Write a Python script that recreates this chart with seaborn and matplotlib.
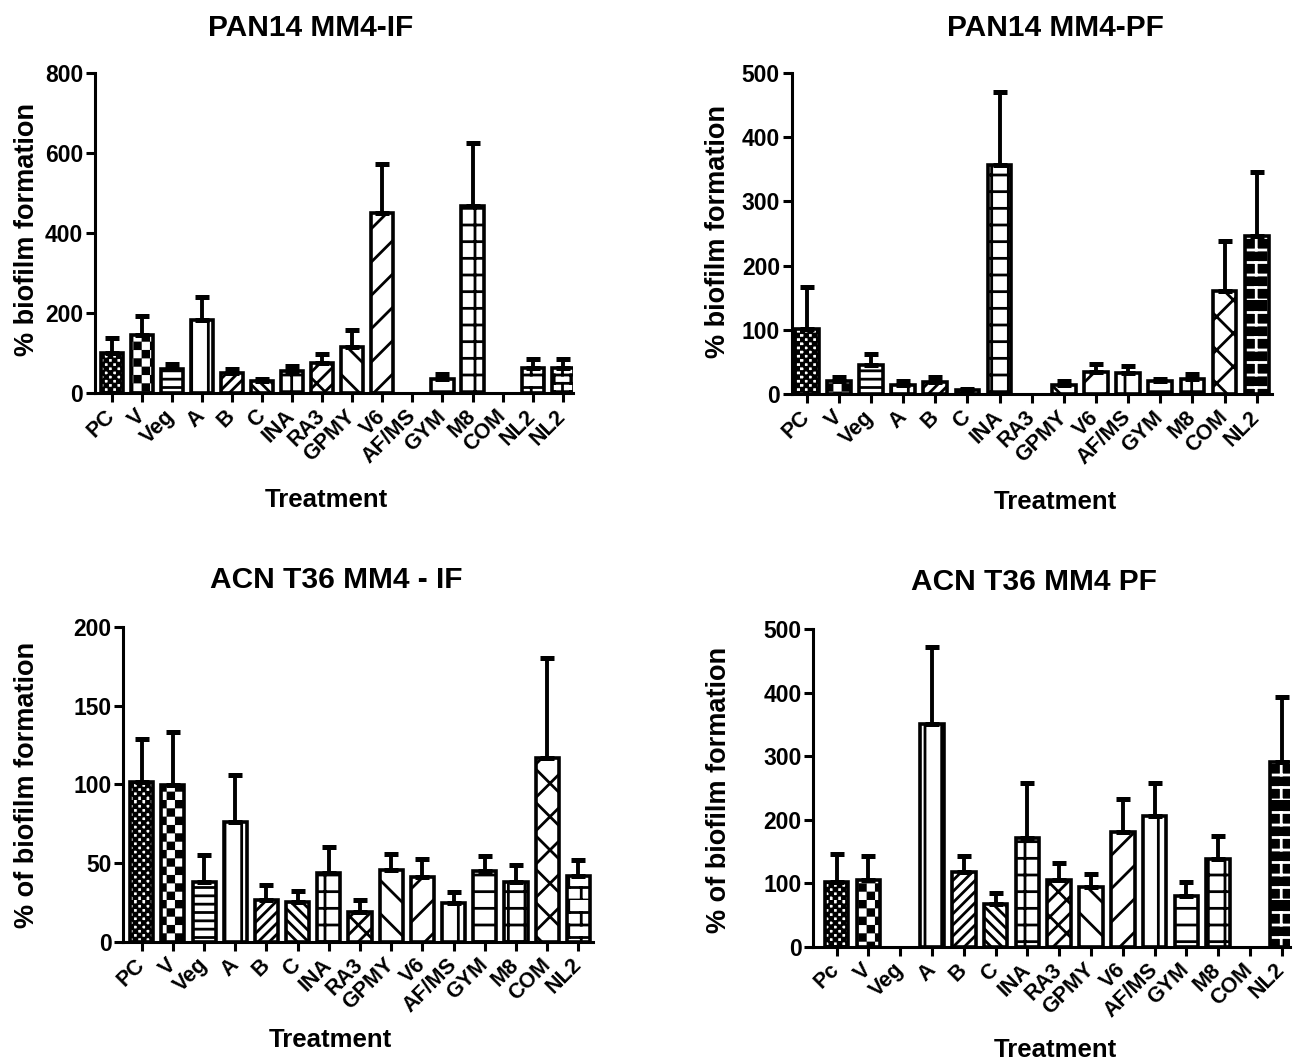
import numpy as np
import pandas as pd
import matplotlib
matplotlib.use("Agg")
import matplotlib.pyplot as plt
import matplotlib.hatch as mhatch
from matplotlib.path import Path
from matplotlib.patches import Rectangle
import seaborn as sns

# ---------------- data ----------------
p1_title = "PAN14 MM4-IF"
p1_labels = ["PC", "V", "Veg", "A", "B", "C", "INA", "RA3", "GPMY", "V6", "AF/MS", "GYM", "M8", "COM", "NL2", "NL2"]
p1_means = [100, 146, 61, 182, 50, 30, 55, 75, 115, 449, 0, 34, 468, 0, 63, 63]
p1_err = [38, 46, 12, 58, 11, 4, 13, 22, 42, 123, 0, 14, 158, 0, 21, 21]
p1_yticks = [0, 200, 400, 600, 800]

p2_title = "PAN14 MM4-PF"
p2_labels = ["PC", "V", "Veg", "A", "B", "C", "INA", "RA3", "GPMY", "V6", "AF/MS", "GYM", "M8", "COM", "NL2"]
p2_means = [102, 20, 45, 14.5, 18, 7, 357, 0, 14.5, 34, 33, 20, 23, 160, 246]
p2_err = [64, 6, 17, 5.5, 9, 1, 114, 0, 6.5, 12, 11, 3, 8, 78, 100]
p2_yticks = [0, 100, 200, 300, 400, 500]

p3_title = "ACN T36 MM4 - IF"
p3_labels = ["PC", "V", "Veg", "A", "B", "C", "INA", "RA3", "GPMY", "V6", "AF/MS", "GYM", "M8", "COM", "NL2"]
p3_means = [101.7, 99.6, 37.7, 76, 26.6, 25.5, 43.6, 18.7, 45.3, 41, 24.5, 44.7, 37.7, 117, 42]
p3_err = [27.3, 33.4, 17.3, 29.7, 9.4, 6.5, 16.4, 7.9, 10.4, 11.5, 6.8, 9.6, 10.8, 63, 9.7]
p3_yticks = [0, 50, 100, 150, 200]

p4_title = "ACN T36 MM4 PF"
p4_labels = ["Pc", "V", "Veg", "A", "B", "C", "INA", "RA3", "GPMY", "V6", "AF/MS", "GYM", "M8", "COM", "NL2"]
p4_means = [102, 105, 0, 351, 117.6, 66.7, 171.7, 105, 94.5, 181, 205, 80, 137.6, 0, 291]
p4_err = [44.5, 38, 0, 121, 25.4, 18.3, 85.3, 26, 19.5, 51, 52, 22, 36.4, 0, 102]
p4_yticks = [0, 100, 200, 300, 400, 500]

ylabel_a = "% biofilm formation"
ylabel_b = "% of biofilm formation"
xlabel = "Treatment"

# ---------------- custom hatches (checker 'O', brick '*') ----------------
class CheckerHatch(mhatch.HatchPatternBase):
    def __init__(self, hatch, density):
        c = hatch.count('O')
        self.n = 6 * c
        self.num_vertices = (self.n * self.n // 2) * 5 if c else 0

    def set_vertices_and_codes(self, vertices, codes):
        n = self.n
        s = 1.0 / n
        m = 0.16 * s
        k = 0
        for i in range(n):
            for j in range(n):
                if (i + j) % 2 == 0:
                    x0, y0 = i * s + m, j * s + m
                    x1, y1 = (i + 1) * s - m, (j + 1) * s - m
                    vertices[k:k + 5] = [(x0, y0), (x1, y0), (x1, y1), (x0, y1), (x0, y0)]
                    codes[k:k + 5] = [Path.MOVETO, Path.LINETO, Path.LINETO, Path.LINETO, Path.CLOSEPOLY]
                    k += 5


class BrickHatch(mhatch.HatchPatternBase):
    def __init__(self, hatch, density):
        c = hatch.count('*')
        self.rows = 4 * c
        self.cols = max(self.rows // 2, 1)
        self.num_vertices = (self.rows + self.rows * self.cols) * 2 if c else 0

    def set_vertices_and_codes(self, vertices, codes):
        k = 0
        for r in range(self.rows):
            y0 = r / self.rows
            y1 = (r + 1) / self.rows
            vertices[k] = (0.0, y0)
            vertices[k + 1] = (1.0, y0)
            k += 2
            off = 0.5 if r % 2 else 0.0
            for c in range(self.cols):
                x = (c + off + 0.25) / self.cols
                vertices[k] = (x, y0)
                vertices[k + 1] = (x, y1)
                k += 2
        codes[0::2] = Path.MOVETO
        codes[1::2] = Path.LINETO


_drop = [getattr(mhatch, nm, None) for nm in ("LargeCircles", "Stars")]
_new = [t for t in mhatch._hatch_types if t not in _drop] + [CheckerHatch, BrickHatch]
mhatch._hatch_types[:] = _new

hatch_map = {"PC": "OOOO", "Pc": "OOOO", "V": "OO", "Veg": "--", "A": "|", "B": "///",
             "C": "\\\\\\", "INA": "+", "RA3": "/x", "GPMY": "\\", "V6": "/", "AF/MS": "|",
             "GYM": "-", "M8": "+", "COM": "x", "NL2": "**"}

# ---------------- style ----------------
sns.set_theme(style="ticks")
plt.rcParams["font.family"] = ["Liberation Sans", "DejaVu Sans"]
plt.rcParams["font.weight"] = "bold"
plt.rcParams["hatch.linewidth"] = 2.0
plt.rcParams["axes.linewidth"] = 2.2
for key in ("text.color", "axes.labelcolor", "xtick.color", "ytick.color", "axes.edgecolor"):
    plt.rcParams[key] = "black"

W, H = 1302, 1063
fig = plt.figure(figsize=(W / 100, H / 100), dpi=100)
fig.patch.set_facecolor("white")


def fx(x):
    return x / W


def fy(y):
    return 1 - y / H


panels = [
    dict(title=p1_title, labels=p1_labels, means=p1_means, err=p1_err, yticks=p1_yticks,
         ylabel=ylabel_a, box=(95, 573, 73, 393), xlim=(-0.555, 15.34),
         title_xy=(311, 28), ylab_xy=(27, 230), xlab_xy=(326, 500), dark=[],
         hatch_override={15: "***"}),
    dict(title=p2_title, labels=p2_labels, means=p2_means, err=p2_err, yticks=p2_yticks,
         ylabel=ylabel_a, box=(791.7, 1271.7, 73, 394), xlim=(-0.467, 14.467),
         title_xy=(1055, 28), ylab_xy=(718, 232), xlab_xy=(1055, 502), dark=[14],
         hatch_override={}),
    dict(title=p3_title, labels=p3_labels, means=p3_means, err=p3_err, yticks=p3_yticks,
         ylabel=ylabel_b, box=(123.3, 593, 627, 941.7), xlim=(-0.59, 14.47),
         title_xy=(336, 580), ylab_xy=(27, 785), xlab_xy=(330, 1040), dark=[],
         hatch_override={}),
    dict(title=p4_title, labels=p4_labels, means=p4_means, err=p4_err, yticks=p4_yticks,
         ylabel=ylabel_b, box=(813.3, 1290, 629, 946.7), xlim=(-0.736, 14.26),
         title_xy=(1034, 582), ylab_xy=(719, 790), xlab_xy=(1055, 1050), dark=[14],
         hatch_override={}),
]

EDGE = 2.6
for p in panels:
    l, r, t, b = p["box"]
    ax = fig.add_axes([fx(l), fy(b), (r - l) / W, (b - t) / H])
    n = len(p["labels"])
    df = pd.DataFrame({"pos": np.arange(n), "val": p["means"]})
    sns.barplot(data=df, x="pos", y="val", ax=ax, color="white", edgecolor="black",
                linewidth=EDGE, width=0.74, errorbar=None, saturation=1)
    bars = list(ax.patches)
    for i, bar in enumerate(bars):
        bar.set_facecolor("white")
        h = p["hatch_override"].get(i, hatch_map[p["labels"][i]])
        if bar.get_height() <= 0:
            bar.set_linewidth(0)
            bar.set_edgecolor("none")
            continue
        if i in p["dark"]:
            bar.set_facecolor("black")
            bar.set_edgecolor("white")
            bar.set_linewidth(0)
            bar.set_hatch(h)
            ax.add_patch(Rectangle((bar.get_x(), bar.get_y()), bar.get_width(), bar.get_height(),
                                   fill=False, edgecolor="black", linewidth=EDGE, zorder=bar.get_zorder() + 0.1))
        else:
            bar.set_edgecolor("black")
            bar.set_hatch(h)
    means = np.array(p["means"], dtype=float)
    err = np.array(p["err"], dtype=float)
    pos = np.arange(n)
    mask = means > 0
    ax.errorbar(pos[mask], means[mask], yerr=[np.zeros(mask.sum()), err[mask]], fmt="none",
                ecolor="black", elinewidth=2.8, capsize=5, capthick=3.6, zorder=5)
    ax.set_xlim(*p["xlim"])
    ax.set_ylim(0, p["yticks"][-1])
    ax.set_yticks(p["yticks"])
    ax.set_yticklabels([str(v) for v in p["yticks"]], fontsize=16.5, fontweight="bold")
    ax.set_xticks(pos)
    ax.set_xticklabels(p["labels"], rotation=45, ha="right", va="center",
                       rotation_mode="anchor", fontsize=15.5, fontweight="bold")
    ax.set_xlabel("")
    ax.set_ylabel("")
    sns.despine(ax=ax)
    ax.spines["left"].set_linewidth(2.2)
    ax.spines["bottom"].set_linewidth(2.2)
    ax.tick_params(axis="both", width=2.2, length=6.5, direction="out", color="black", pad=2)
    ax.tick_params(axis="x", pad=8)
    ax.set_facecolor("white")
    fig.text(fx(p["title_xy"][0]), fy(p["title_xy"][1]), p["title"], ha="center", va="center",
             fontsize=21.5, fontweight="bold")
    fig.text(fx(p["ylab_xy"][0]), fy(p["ylab_xy"][1]), p["ylabel"], ha="center", va="center",
             rotation=90, fontsize=19.5, fontweight="bold")
    fig.text(fx(p["xlab_xy"][0]), fy(p["xlab_xy"][1]), xlabel, ha="center", va="center",
             fontsize=18.5, fontweight="bold")

fig.savefig("out.png", dpi=100, facecolor="white")
